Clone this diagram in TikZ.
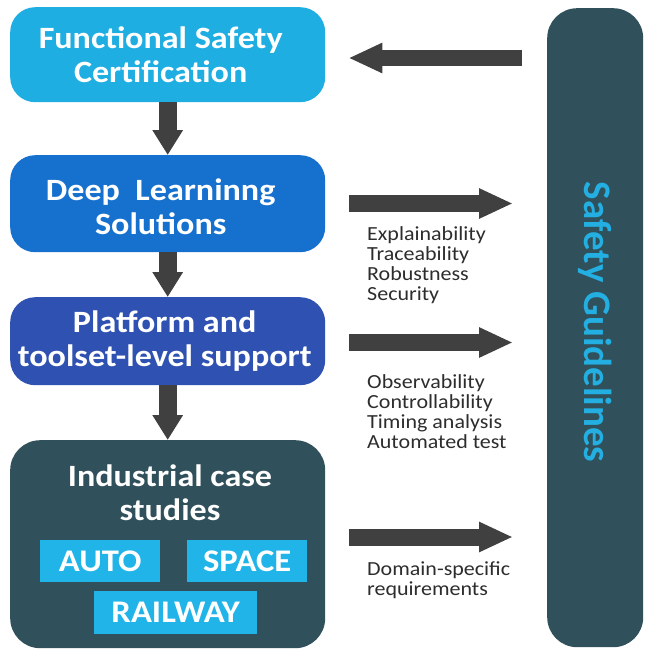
\documentclass[tikz,border=0pt]{standalone}
\usepackage{fontspec}
\setmainfont{Carlito}[FakeStretch=1.1]
\newfontfamily\sgfont{Carlito}
\usetikzlibrary{arrows.meta}
\definecolor{cfsc}{RGB}{30,174,226}
\definecolor{cdl}{RGB}{22,112,206}
\definecolor{cplat}{RGB}{47,82,178}
\definecolor{cslate}{RGB}{48,80,92}
\definecolor{csub}{RGB}{33,180,232}
\definecolor{csg}{RGB}{35,175,225}
\definecolor{carrow}{RGB}{64,64,64}
\definecolor{clabel}{RGB}{45,45,45}
\tikzset{
  bigbox/.style={rounded corners=25pt, draw=none, minimum width=315pt, anchor=north west, fill=#1},
  boxtext/.style={text=white, font=\bfseries\fontsize{31}{34}\selectfont, align=center},
  subbox/.style={fill=csub, draw=none, anchor=north west, text=white, font=\bfseries\fontsize{31.5}{32}\selectfont, inner sep=0pt},
  darrow/.style={draw=carrow, line width=18pt, -{Triangle[length=25pt,width=29pt]}},
  harrow/.style={draw=carrow, line width=17pt, -{Triangle[length=34pt,width=28pt]}},
  lbl/.style={anchor=north west, align=left, text=clabel, inner sep=0pt, font=\fontsize{20}{20.2}\selectfont}
}
\begin{document}
\begin{tikzpicture}[x=1pt,y=-1pt]
\useasboundingbox (0,0) rectangle (647,653);
% left column boxes
\node[bigbox=cfsc, minimum height=95pt] (fsc) at (10,7) {};
\node[boxtext] (fsct) at ([xshift=-7pt]fsc.center) {Functional Safety\\Certification};
\node[bigbox=cdl, minimum height=97pt] (dl) at (10,155) {};
\node[boxtext] (dlt) at ([xshift=-7pt,yshift=-3pt]dl.center) {Deep\ \ Learninng\\Solutions};
\node[bigbox=cplat, minimum height=88pt] (plat) at (10,297) {};
\node[boxtext] (platt) at ([xshift=-3pt]plat.center) {Platform and\\toolset-level support};
\node[bigbox=cslate, minimum height=208pt, rounded corners=30pt] (ind) at (10,440) {};
\node[boxtext, anchor=north] (indt) at (170,461) {Industrial case\\studies};
\node[subbox, minimum width=120pt, minimum height=42pt] (auto) at (40,540) {AUTO};
\node[subbox, minimum width=120pt, minimum height=42pt] (space) at (187,540) {SPACE};
\node[subbox, minimum width=163pt, minimum height=43pt] (rail) at (94,591) {RAILWAY};
% right tall box
\node[fill=cslate, rounded corners=30pt, minimum width=96pt, minimum height=639pt, anchor=north west, inner sep=0pt] (sg) at (547,8) {};
\node[rotate=-90, text=csg, font=\sgfont\bfseries\fontsize{39}{40}\selectfont] (sgt) at ([yshift=5.5pt]sg.center) {Safety Guidelines};
% vertical arrows
\draw[darrow] (fsc.south) -- (dl.north);
\draw[darrow] (dl.south) -- (plat.north);
\draw[darrow] (plat.south) -- (ind.north);
% left arrow
\draw[harrow, line width=16pt] ([xshift=-25pt]sg.west |- 0,58) -- ([xshift=23pt]fsc.east |- 0,58);
% right arrows
\draw[harrow] ([xshift=24pt]dl.east |- 0,203.5) -- ([xshift=-34pt]sg.west |- 0,203.5);
\draw[harrow] ([xshift=24pt]plat.east |- 0,342.5) -- ([xshift=-34pt]sg.west |- 0,342.5);
\draw[harrow] ([xshift=24pt]ind.east |- 0,537) -- ([xshift=-34pt]sg.west |- 0,537);
% labels
\node[lbl] (l1) at (367,226) {Explainability\\Traceability\\Robustness\\Security};
\node[lbl] (l2) at (367,374) {Observability\\Controllability\\Timing analysis\\Automated test};
\node[lbl] (l3) at (367,561) {Domain-specific\\requirements};
\end{tikzpicture}
\end{document}
